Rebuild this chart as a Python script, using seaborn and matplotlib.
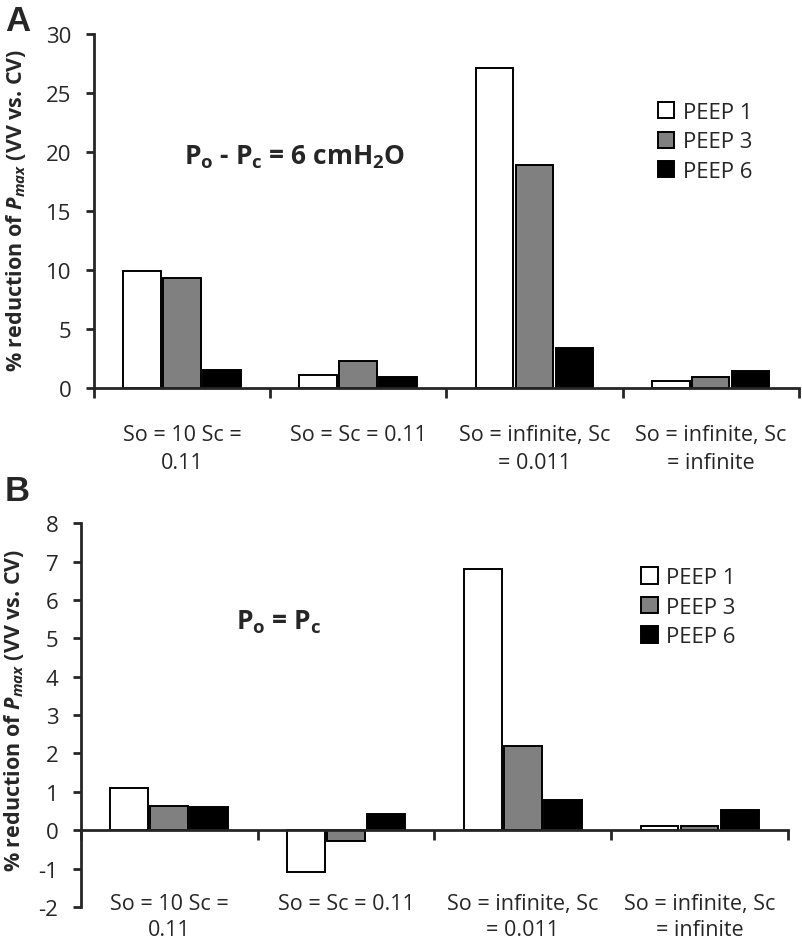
import matplotlib
matplotlib.use("Agg")
import matplotlib.pyplot as plt
import pandas as pd
import seaborn as sns

# values
categories = ["So = 10 Sc =\n0.11", "So = Sc = 0.11",
              "So = infinite, Sc\n= 0.011", "So = infinite, Sc\n= infinite"]
peep_levels = ["PEEP 1", "PEEP 3", "PEEP 6"]

a_peep1 = [9.9, 1.1, 27.1, 0.6]
a_peep3 = [9.3, 2.3, 18.9, 0.9]
a_peep6 = [1.5, 0.9, 3.4, 1.4]

b_peep1 = [1.1, -1.08, 6.82, 0.11]
b_peep3 = [0.62, -0.28, 2.2, 0.11]
b_peep6 = [0.6, 0.42, 0.8, 0.52]

a_yticks = [0, 5, 10, 15, 20, 25, 30]
b_yticks = [-2, -1, 0, 1, 2, 3, 4, 5, 6, 7, 8]

bar_colors = ["white", "#808080", "black"]

sns.set_style("ticks")
plt.rcParams["font.family"] = ["Open Sans", "DejaVu Sans"]
plt.rcParams["axes.unicode_minus"] = False
plt.rcParams["mathtext.fontset"] = "custom"
plt.rcParams["mathtext.rm"] = "Open Sans"
plt.rcParams["mathtext.it"] = "Open Sans:italic"
plt.rcParams["mathtext.bf"] = "Open Sans:bold"
plt.rcParams["mathtext.bfit"] = "Open Sans:italic:bold"


def long_table(p1, p3, p6):
    rows = []
    for name, vals in zip(peep_levels, [p1, p3, p6]):
        for cat, v in zip(categories, vals):
            rows.append({"condition": cat, "peep": name, "value": v})
    return pd.DataFrame(rows)


def draw_panel(ax, df, yticks, note, note_xy, legend_xy, zero_spine):
    sns.barplot(data=df, x="condition", y="value", hue="peep", order=categories,
                hue_order=peep_levels, palette=bar_colors, edgecolor="black",
                linewidth=1.4, width=0.68, gap=0.06, errorbar=None, ax=ax)
    ax.set_ylim(yticks[0], yticks[-1])
    ax.set_xlim(-0.5, len(categories) - 0.5)
    ax.set_yticks(yticks)
    ax.tick_params(axis="y", labelsize=16, length=6, width=2, pad=10)

    # group boundary ticks (major) and category labels (minor)
    ax.set_xticks([i - 0.5 for i in range(len(categories) + 1)])
    ax.set_xticklabels([])
    ax.tick_params(axis="x", which="major", length=7, width=2, direction="out")
    ax.set_xticks(range(len(categories)), categories, minor=True)
    ax.tick_params(axis="x", which="minor", length=0, labelsize=15.5)

    for side in ["top", "right"]:
        ax.spines[side].set_visible(False)
    for side in ["left", "bottom"]:
        ax.spines[side].set_linewidth(2)
    if zero_spine:
        ax.spines["bottom"].set_position(("data", 0))

    ax.set_xlabel("")
    ax.set_ylabel(r"% reduction of $\mathbfit{P}_{\mathbfit{max}}$ (VV vs. CV)",
                  fontsize=15.5, fontweight="bold")

    ax.text(note_xy[0], note_xy[1], note, transform=ax.transAxes,
            ha="center", va="center", fontsize=19, fontweight="bold")

    ax.legend(loc="center left", bbox_to_anchor=legend_xy, frameon=False,
              fontsize=16, handlelength=0.75, handleheight=0.75,
              handletextpad=0.4, labelspacing=0.38, borderpad=0,
              borderaxespad=0)
    return ax


fig = plt.figure(figsize=(8.02, 9.45), dpi=100)
ax_a = fig.add_axes([0.117, 0.5884, 0.879, 0.3746])
ax_b = fig.add_axes([0.1006, 0.0392, 0.882, 0.406])

draw_panel(ax_a, long_table(a_peep1, a_peep3, a_peep6), a_yticks,
           "P$_\\mathbf{o}$ - P$_\\mathbf{c}$ = 6 cmH$_\\mathbf{2}$O",
           (0.285, 0.655), (0.8, 0.695), zero_spine=False)
draw_panel(ax_b, long_table(b_peep1, b_peep3, b_peep6), b_yticks,
           "P$_\\mathbf{o}$ = P$_\\mathbf{c}$",
           (0.28, 0.745), (0.792, 0.781), zero_spine=True)

# category label placement below each axis
ax_a.tick_params(axis="x", which="minor", pad=26)
ax_b.tick_params(axis="x", which="minor", pad=45)
for lab in ax_a.get_xticklabels(minor=True):
    lab.set_linespacing(1.45)
for lab in ax_b.get_xticklabels(minor=True):
    lab.set_linespacing(1.35)

ax_a.yaxis.set_label_coords(-0.094, 0.505)
ax_b.yaxis.set_label_coords(-0.078, 0.515)

fig.text(0.006, 0.995, "A", ha="left", va="top", fontsize=25,
         fontweight="bold", family="Liberation Sans")
fig.text(0.006, 0.497, "B", ha="left", va="top", fontsize=25,
         fontweight="bold", family="Liberation Sans")

fig.savefig("out.png", dpi=100)
